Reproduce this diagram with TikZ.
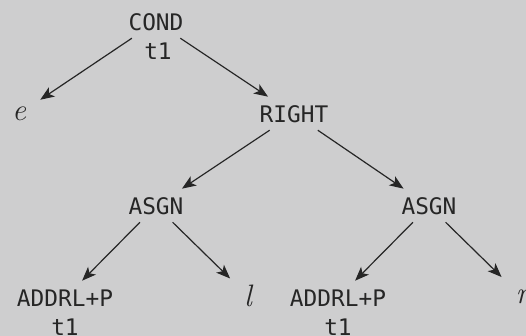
\documentclass[tikz,border=0pt]{standalone}
\usepackage{fontspec}
\setmonofont{DejaVu Sans Mono}
\usetikzlibrary{arrows.meta}
\definecolor{bggray}{RGB}{206,206,207}
\definecolor{inkgray}{RGB}{38,38,38}

\begin{document}
\begin{tikzpicture}[>={Stealth[width=5.5pt,length=7pt,inset=1.8pt]}, color=inkgray, line width=0.6pt, op/.style={inner sep=3.5pt, font=\fontsize{11.4}{13}\ttfamily}, reg/.style={inner sep=0pt, font=\fontsize{11.4}{13}\ttfamily}, leaf/.style={inner sep=6pt, font=\fontsize{15.5}{18}\itshape}, shorten >=1pt]
  \fill[bggray] (0pt, 0pt) rectangle (263pt, -168pt);
  \useasboundingbox (0pt, 0pt) rectangle (263pt, -168pt);
  \draw (78.0pt, -11.0pt)node[op](cond){COND};
  \draw (79.0pt, -25.5pt)node[reg](condreg){t1};
  \draw (9.5pt, -57.0pt)node[leaf](e){e};
  \draw (147.0pt, -57.0pt)node[op](right){RIGHT};
  \draw (78.0pt, -103.0pt)node[op](asgnl){ASGN};
  \draw (214.5pt, -103.0pt)node[op](asgnr){ASGN};
  \draw (32.5pt, -149.0pt)node[op](addrl){ADDRL+P};
  \draw (32.5pt, -163.5pt)node[reg](addrlreg){t1};
  \draw (124.0pt, -148.0pt)node[leaf](l){l};
  \draw (169.0pt, -149.0pt)node[op](addrr){ADDRL+P};
  \draw (169.0pt, -163.5pt)node[reg](addrrreg){t1};
  \draw (261.0pt, -148.5pt)node[leaf](r){r};
  \path[->] (cond) edge (e);
  \path[->] (cond) edge (right);
  \path[->] (right) edge (asgnl);
  \path[->] (right) edge (asgnr);
  \path[->] (asgnl) edge (addrl);
  \path[->] (asgnl) edge (l);
  \path[->] (asgnr) edge (addrr);
  \path[->] (asgnr) edge (r);
\end{tikzpicture}
\end{document}
